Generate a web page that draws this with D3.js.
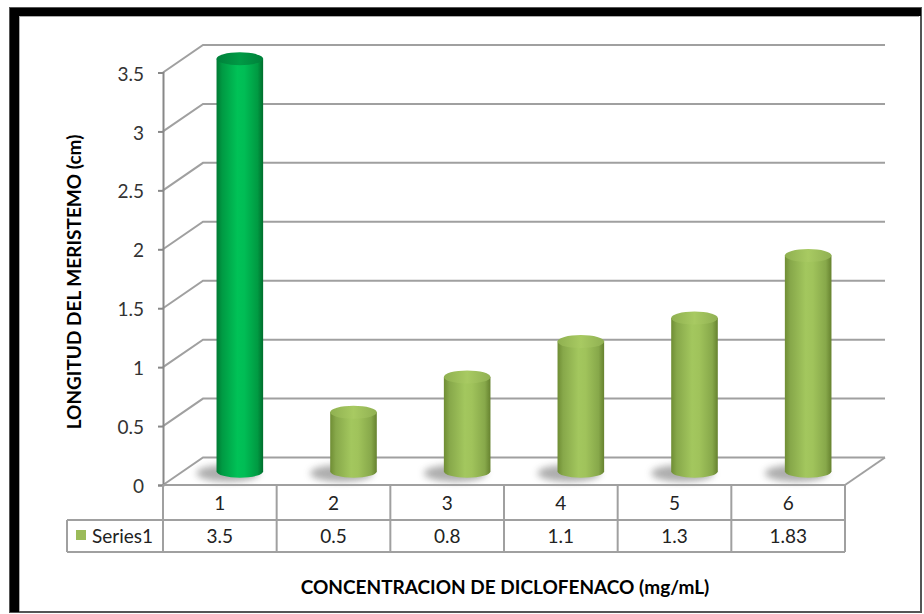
<!DOCTYPE html>
<html>
<head>
<meta charset="utf-8">
<script src="https://cdn.jsdelivr.net/npm/d3@7"></script>
<style>
  html, body { margin: 0; padding: 0; background: #fff; }
  svg { display: block; }
  text { font-family: Lato, "Open Sans", sans-serif; }
</style>
</head>
<body>
<svg id="chart" width="924" height="614"></svg>
<script>
// Meristem length per diclofenac concentration
const categories = ["1", "2", "3", "4", "5", "6"];
const values = [3.5, 0.5, 0.8, 1.1, 1.3, 1.83];
const valueLabels = ["3.5", "0.5", "0.8", "1.1", "1.3", "1.83"];
const yTicks = [0, 0.5, 1, 1.5, 2, 2.5, 3, 3.5];
const tickLabels = ["0", "0.5", "1", "1.5", "2", "2.5", "3", "3.5"];
const seriesName = "Series1";
const pointStyle = ["highlight", "base", "base", "base", "base", "base"];

const svg = d3.select("#chart");
const W = 924, H = 614;

// layout of the 3-D plot box
const front = { left: 163, right: 845, bottom: 485, top: 72.5 };
const depth = { dx: 40, dy: -27.5 };

const x = d3.scaleBand().domain(categories).range([front.left, front.right]);
const y = d3.scaleLinear().domain([0, 3.5]).range([front.bottom, front.top]);

const defs = svg.append("defs");

function cylGradient(id, stops) {
  const g = defs.append("linearGradient").attr("id", id)
    .attr("x1", "0%").attr("x2", "100%").attr("y1", "0%").attr("y2", "0%");
  stops.forEach(s => g.append("stop").attr("offset", s[0]).attr("stop-color", s[1]));
}
cylGradient("bodyHighlight", [["0%", "#007a33"], ["12%", "#009a43"], ["45%", "#00c257"], ["60%", "#00bd55"], ["88%", "#009a42"], ["100%", "#006e2d"]]);
cylGradient("bodyBase", [["0%", "#6f8d34"], ["12%", "#87a84a"], ["45%", "#a3c75e"], ["60%", "#a0c35b"], ["88%", "#87a84a"], ["100%", "#66822f"]]);
cylGradient("topHighlight", [["0%", "#00803a"], ["50%", "#009a45"], ["100%", "#00803a"]]);
cylGradient("topBase", [["0%", "#8fb050"], ["50%", "#a8ca62"], ["100%", "#90b052"]]);

const blur = defs.append("filter").attr("id", "shadowBlur")
  .attr("x", "-50%").attr("y", "-100%").attr("width", "200%").attr("height", "300%");
blur.append("feGaussianBlur").attr("stdDeviation", 3.5);

// outer frame
svg.append("rect").attr("x", 0).attr("y", 0).attr("width", W).attr("height", H).attr("fill", "#fff");
svg.append("rect").attr("x", 10).attr("y", 8).attr("width", 911).attr("height", 604)
  .attr("fill", "none").attr("stroke", "#555").attr("stroke-width", 2);
svg.append("rect").attr("x", 10).attr("y", 8).attr("width", 9).attr("height", 604).attr("fill", "#000");
svg.append("rect").attr("x", 10).attr("y", 8).attr("width", 911).attr("height", 8).attr("fill", "#000");
svg.append("line").attr("x1", 19.5).attr("x2", 19.5).attr("y1", 16).attr("y2", 611)
  .attr("stroke", "#aaa").attr("stroke-width", 1);
svg.append("line").attr("x1", 19).attr("x2", 919).attr("y1", 16.5).attr("y2", 16.5)
  .attr("stroke", "#aaa").attr("stroke-width", 1);

const gridColor = "#a0a0a0";

// gridlines on the side and back walls
const grid = svg.append("g");
yTicks.forEach(t => {
  const yf = y(t);
  const pts = [[front.left, yf], [front.left + depth.dx, yf + depth.dy], [front.right + depth.dx, yf + depth.dy]];
  grid.append("path").attr("d", d3.line()(pts))
    .attr("fill", "none").attr("stroke", gridColor).attr("stroke-width", 2);
});
// floor right edge
grid.append("path")
  .attr("d", d3.line()([[front.right, y(0)], [front.right + depth.dx, y(0) + depth.dy]]))
  .attr("fill", "none").attr("stroke", gridColor).attr("stroke-width", 2);

// vertical axis with ticks
const axisG = svg.append("g").attr("transform", `translate(${front.left},0)`);
const yAxis = d3.axisLeft(y).tickValues(yTicks).tickFormat((d, i) => tickLabels[i])
  .tickSize(5).tickPadding(14);
axisG.call(yAxis);
axisG.select(".domain").attr("stroke", "#888").attr("stroke-width", 2);
axisG.selectAll(".tick line").attr("stroke", "#888").attr("stroke-width", 2);
axisG.selectAll(".tick text").attr("font-size", 19).attr("fill", "#333")
  .attr("font-family", "Lato, 'Open Sans', sans-serif").attr("dy", "0.4em");

// cylinders
const rx = x.bandwidth() * 0.205, ry = 6.5;
const bars = svg.append("g");
categories.forEach((c, i) => {
  const cx = x(c) + x.bandwidth() / 2 + depth.dx / 2;
  const baseY = y(0) + depth.dy / 2;
  const topY = y(values[i]) + depth.dy / 2;
  const hl = pointStyle[i] === "highlight";

  bars.append("ellipse")
    .attr("cx", cx - 12).attr("cy", baseY + 2)
    .attr("rx", rx + 8).attr("ry", ry + 2)
    .attr("fill", "#6a6a6a").attr("opacity", 0.55)
    .attr("filter", "url(#shadowBlur)");

  bars.append("path")
    .attr("d", `M${cx - rx},${topY} L${cx - rx},${baseY} A${rx},${ry} 0 0 0 ${cx + rx},${baseY} L${cx + rx},${topY} Z`)
    .attr("fill", hl ? "url(#bodyHighlight)" : "url(#bodyBase)");

  bars.append("ellipse")
    .attr("cx", cx).attr("cy", topY).attr("rx", rx).attr("ry", ry)
    .attr("fill", hl ? "url(#topHighlight)" : "url(#topBase)");
});

// data table
const rowTop = front.bottom, rowMid = 520, rowBot = 552, legendLeft = 67;
const table = svg.append("g").attr("stroke", gridColor).attr("stroke-width", 2).attr("fill", "none");
table.append("line").attr("x1", front.left).attr("x2", front.right).attr("y1", rowTop).attr("y2", rowTop);
table.append("line").attr("x1", legendLeft).attr("x2", front.right).attr("y1", rowMid).attr("y2", rowMid);
table.append("line").attr("x1", legendLeft).attr("x2", front.right).attr("y1", rowBot).attr("y2", rowBot);
table.append("line").attr("x1", legendLeft).attr("x2", legendLeft).attr("y1", rowMid).attr("y2", rowBot);
table.append("line").attr("x1", front.left).attr("x2", front.left).attr("y1", rowTop).attr("y2", rowBot);
categories.forEach(c => {
  const xr = x(c) + x.bandwidth();
  table.append("line").attr("x1", xr).attr("x2", xr).attr("y1", rowTop).attr("y2", rowBot);
});

const tText = svg.append("g").attr("font-size", 19).attr("fill", "#222").attr("text-anchor", "middle");
categories.forEach((c, i) => {
  const cx = x(c) + x.bandwidth() / 2;
  tText.append("text").attr("x", cx).attr("y", 510).text(c);
  tText.append("text").attr("x", cx).attr("y", 543).text(valueLabels[i]);
});
svg.append("rect").attr("x", 76).attr("y", 530).attr("width", 10).attr("height", 10).attr("fill", "#9bbb59");
svg.append("text").attr("x", 92).attr("y", 543).attr("font-size", 19).attr("fill", "#222").text(seriesName);

// axis titles
svg.append("text")
  .attr("transform", "translate(81,282) rotate(-90)")
  .attr("text-anchor", "middle").attr("font-size", 19).attr("font-weight", "bold").attr("fill", "#000")
  .text("LONGITUD DEL MERISTEMO (cm)");
svg.append("text")
  .attr("x", 505).attr("y", 594)
  .attr("text-anchor", "middle").attr("font-size", 19).attr("font-weight", "bold").attr("fill", "#000")
  .text("CONCENTRACION DE DICLOFENACO (mg/mL)");
</script>
</body>
</html>
